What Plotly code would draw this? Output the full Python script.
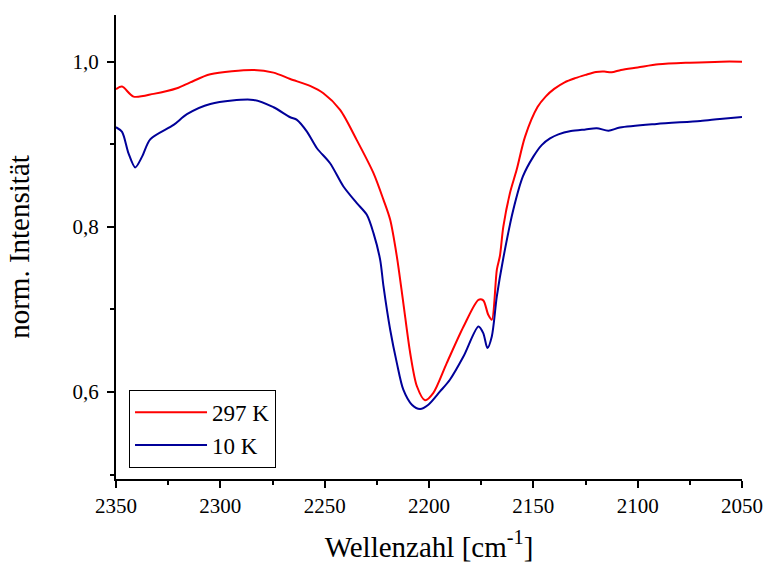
import plotly.graph_objects as go

# Wavenumbers [cm^-1] and normalised intensities of the two spectra
wn_297 = [2350, 2347.1, 2341.6, 2332, 2320.8, 2314.4, 2304.8, 2284.1, 2274.5, 2266.5,
          2257, 2250.6, 2242.6, 2234.6, 2226.6, 2221.8, 2218.6,
          2215.4, 2212.3, 2209, 2205.8, 2201.9, 2197.9, 2191.5, 2183.5, 2176.3, 2174,
          2171.6, 2169.9, 2167.5, 2166, 2164.4, 2161.2, 2158, 2154, 2148, 2144,
          2140, 2135, 2130, 2125, 2120, 2116, 2112.5, 2108, 2100, 2090, 2075, 2060, 2050]
int_297 = [0.9666, 0.9698, 0.9577, 0.961, 0.9678, 0.975, 0.9847, 0.990, 0.9867, 0.979,
           0.9706, 0.9617, 0.9416, 0.905, 0.865, 0.8326, 0.8085,
           0.764, 0.7077, 0.647, 0.607, 0.590, 0.599, 0.635, 0.679, 0.7117, 0.711,
           0.6935, 0.6875, 0.748, 0.765, 0.800, 0.841, 0.869, 0.909, 0.945, 0.958,
           0.967, 0.975, 0.980, 0.984, 0.9875, 0.988, 0.9871, 0.990, 0.993, 0.9968, 0.9988, 1.0, 1.0]

wn_10 = [2350, 2347.1, 2344, 2340.8, 2337.5, 2333.6, 2322.4, 2316, 2304.8, 2284.1,
         2274.5, 2266.5, 2263.3, 2258.5, 2253.7, 2247.4, 2241, 2234.6, 2229.8, 2226.6,
         2223.4, 2221.8, 2218.6, 2215.4, 2212.3, 2208.2, 2204.3, 2200.3, 2194.7, 2190,
         2183.5, 2176.3, 2174, 2172, 2169.9, 2167.5, 2164.4, 2159.6, 2155, 2150,
         2146, 2142, 2138, 2132, 2125, 2119.6, 2114, 2108.5, 2090.9, 2070,
         2060.6, 2050]
int_10 = [0.9206, 0.915, 0.889, 0.872, 0.885, 0.906, 0.9234, 0.9364, 0.9488, 0.9537,
          0.9448, 0.9327, 0.9295, 0.9153, 0.8952, 0.877, 0.8488, 0.8287, 0.8145, 0.7924,
          0.760, 0.7278, 0.6754, 0.635, 0.6028, 0.5846, 0.5794, 0.5846, 0.6007, 0.6149,
          0.643, 0.6794, 0.6714, 0.6532, 0.6673, 0.7157, 0.762, 0.8206, 0.861, 0.885,
          0.899, 0.907, 0.912, 0.916, 0.918, 0.9194, 0.9165, 0.9202, 0.9246, 0.9283,
          0.9307, 0.933]

series = [("297 K", wn_297, int_297, "#FF0000"),
          ("10 K", wn_10, int_10, "#000099")]

FONT = "Liberation Serif, Times New Roman, serif"

fig = go.Figure()
for name, x, y, color in series:
    fig.add_trace(go.Scatter(x=x, y=y, name=name, mode="lines",
                             line=dict(color=color, width=2, shape="spline", smoothing=0.8)))

axis_common = dict(showline=True, linecolor="black", linewidth=2, mirror=False,
                   showgrid=False, zeroline=False, ticks="outside", ticklen=7,
                   tickwidth=1.5, tickcolor="black", automargin=False,
                   tickfont=dict(family=FONT, size=21, color="black"))

fig.update_layout(
    width=766, height=565,
    margin=dict(l=116, r=24, t=15, b=86),
    paper_bgcolor="white", plot_bgcolor="white",
    separators=",.",
    font=dict(family=FONT, color="black"),
    xaxis=dict(range=[2350, 2050], dtick=50, tick0=2050,
               minor=dict(dtick=25, ticks="outside", ticklen=4, tickwidth=1.5, tickcolor="black"),
               title=dict(text="Wellenzahl [cm<sup>-1</sup>]", font=dict(family=FONT, size=29),
                          standoff=19),
               **axis_common),
    yaxis=dict(range=[0.4947, 1.0565], dtick=0.2, tick0=0, tickformat=".1f",
               minor=dict(dtick=0.1, ticks="outside", ticklen=4, tickwidth=1.5, tickcolor="black"),
               ticklabelstandoff=4,
               title=dict(text="norm. Intensität", font=dict(family=FONT, size=29),
                          standoff=34),
               **axis_common),
    legend=dict(x=0.0208, y=0.1923, xanchor="left", yanchor="top",
                bordercolor="black", borderwidth=1, bgcolor="white",
                font=dict(family=FONT, size=23, color="black"),
                itemwidth=72, tracegroupgap=0),
    showlegend=True,
)

fig.write_html("out.html")
